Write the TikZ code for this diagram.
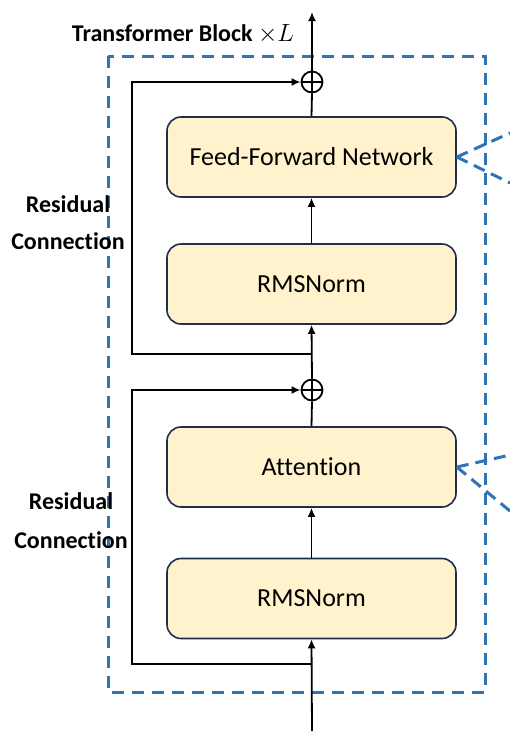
\documentclass[tikz,border=0pt]{standalone}
\usepackage{fontspec}
\setmainfont[Ligatures={NoCommon}]{Carlito}
\usetikzlibrary{arrows.meta}
\definecolor{boxfill}{HTML}{FFF2CC}
\definecolor{boxdraw}{HTML}{1F2D4E}
\definecolor{dashblue}{HTML}{2E75B6}
\tikzset{
  block/.style={draw=boxdraw, fill=boxfill, line width=1.6pt, rounded corners=14pt, minimum width=289pt, minimum height=80pt, font=\fontsize{26}{30}\selectfont, inner sep=0pt},
  flow/.style={line width=1.8pt, -{Latex[length=9pt,width=8pt]}},
  plain/.style={line width=1.8pt},
  adder/.style={circle, draw, line width=1.8pt, minimum size=21pt, inner sep=0pt},
  dashline/.style={draw=dashblue, line width=3pt, dash pattern=on 12pt off 8pt},
  lbl/.style={font=\bfseries\fontsize{24}{28}\selectfont, align=center}
}
\begin{document}
\begin{tikzpicture}[x=1pt,y=-1pt]
\useasboundingbox (0,0) rectangle (510,737);
% dashed container
\draw[dashline] (108,56) rectangle (485,692);
% blocks
\node[block] (ffn) at (311.5,157) {Feed-Forward Network};
\node[block] (norm1) at (311.5,284) {RMSNorm};
\node[block] (attn) at (311.5,467) {Attention};
\node[block] (norm2) at (311.5,598.5) {RMSNorm};
% adders
\node[adder] (add1) at (312,82) {};
\node[adder] (add2) at (312,390) {};
\draw[plain] (add1.north) -- (add1.south) (add1.west) -- (add1.east);
\draw[plain] (add2.north) -- (add2.south) (add2.west) -- (add2.east);
% coordinates
\coordinate (top) at (312,12);
\coordinate (bot) at (312,731);
\coordinate (r1b) at (312,354);
\coordinate (r2b) at (312,664);
% main flow
\draw[flow] (bot) -- (norm2.south);
\draw[flow] (norm2.north) -- (attn.south);
\draw[plain] (attn.north) -- (add2.south);
\draw[flow] (add2.north) -- (norm1.south);
\draw[flow] (norm1.north) -- (ffn.south);
\draw[plain] (ffn.north) -- (add1.south);
\draw[flow] (add1.north) -- (top);
% residuals
\draw[flow] (r1b) -- (132,354) -- (132,82) -- (add1.west);
\draw[flow] (r2b) -- (132,664) -- (132,390) -- (add2.west);
% dashed leaders
\coordinate (f1) at (510,133);
\coordinate (f2) at (510,183);
\coordinate (a1) at (510,455);
\coordinate (a2) at (510,511);
\draw[dashline, dash pattern=on 12pt off 7pt] (ffn.east) -- (f1);
\draw[dashline, dash pattern=on 12pt off 7pt] (ffn.east) -- (f2);
\draw[dashline, dash pattern=on 12pt off 7pt] (attn.east) -- (a1);
\draw[dashline, dash pattern=on 12pt off 7pt] (attn.east) -- (a2);
% labels
\node[lbl] (title) at (183,34) {Transformer Block $\times L$};
\node[lbl] (res1a) at (68,204) {Residual};
\node[lbl] (res1b) at (68,241) {Connection};
\node[lbl] (res2a) at (71,501) {Residual};
\node[lbl] (res2b) at (71,540) {Connection};
\end{tikzpicture}
\end{document}
